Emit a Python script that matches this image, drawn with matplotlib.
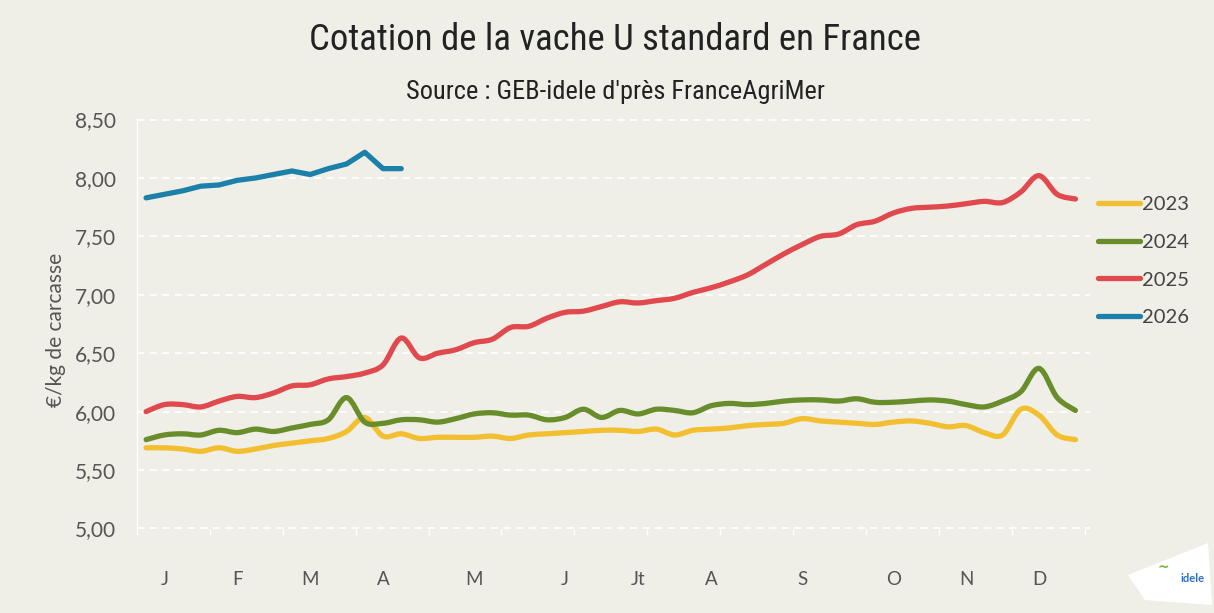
import matplotlib
matplotlib.use("Agg")
import matplotlib.pyplot as plt
from matplotlib.path import Path
from matplotlib.patches import PathPatch, Polygon
from matplotlib.lines import Line2D
from matplotlib import font_manager
import numpy as np

# ---------------- data ----------------
weeks = list(range(52))
y2023 = [5.69, 5.69, 5.68, 5.66, 5.69, 5.66, 5.68, 5.71, 5.73, 5.75, 5.77, 5.83, 5.95,
         5.79, 5.81, 5.77, 5.78, 5.78, 5.78, 5.79, 5.77, 5.80, 5.81, 5.82, 5.83, 5.84,
         5.84, 5.83, 5.85, 5.80, 5.84, 5.85, 5.86, 5.88, 5.89, 5.90, 5.94, 5.92, 5.91,
         5.90, 5.89, 5.91, 5.92, 5.90, 5.87, 5.88, 5.82, 5.80, 6.02, 5.97, 5.80, 5.76]
y2024 = [5.76, 5.80, 5.81, 5.80, 5.84, 5.82, 5.85, 5.83, 5.86, 5.89, 5.93, 6.12, 5.91,
         5.90, 5.93, 5.93, 5.91, 5.94, 5.98, 5.99, 5.97, 5.97, 5.93, 5.95, 6.02, 5.95,
         6.01, 5.98, 6.02, 6.01, 5.99, 6.05, 6.07, 6.06, 6.07, 6.09, 6.10, 6.10, 6.09,
         6.11, 6.08, 6.08, 6.09, 6.10, 6.09, 6.06, 6.04, 6.09, 6.17, 6.37, 6.12, 6.01]
y2025 = [6.00, 6.06, 6.06, 6.04, 6.09, 6.13, 6.12, 6.16, 6.22, 6.23, 6.28, 6.30, 6.33,
         6.40, 6.63, 6.46, 6.50, 6.53, 6.59, 6.62, 6.72, 6.73, 6.80, 6.85, 6.86, 6.90,
         6.94, 6.93, 6.95, 6.97, 7.02, 7.06, 7.11, 7.17, 7.26, 7.35, 7.43, 7.50, 7.52,
         7.60, 7.63, 7.70, 7.74, 7.75, 7.76, 7.78, 7.80, 7.79, 7.88, 8.02, 7.86, 7.82]
y2026 = [7.83, 7.86, 7.89, 7.93, 7.94, 7.98, 8.00, 8.03, 8.06, 8.03, 8.08, 8.12, 8.22,
         8.08, 8.08]
series_names = ["2023", "2024", "2025", "2026"]
month_labels = ["J", "F", "M", "A", "M", "J", "Jt", "A", "S", "O", "N", "D"]
month_weeks = [1, 5, 9, 13, 18, 23, 27, 31, 36, 41, 45, 49]
y_ticks = [5.0, 5.5, 6.0, 6.5, 7.0, 7.5, 8.0, 8.5]

colors = ["#F2BF30", "#6A8D2B", "#E0494E", "#1C80A9"]
BG = "#EFEFE8"

avail = {f.name for f in font_manager.fontManager.ttflist}
def pick(cands):
    for c in cands:
        if c in avail:
            return c
    return "DejaVu Sans"
title_font = pick(["Roboto Condensed", "Open Sans Condensed", "Liberation Sans Narrow", "Roboto"])
body_font = pick(["Lato", "Open Sans", "DejaVu Sans"])

fig = plt.figure(figsize=(12.14, 6.13), dpi=100, facecolor=BG)
ax = fig.add_axes([137/1214, 1-529/613, (1090-137)/1214, (529-119)/613])
ax.set_facecolor(BG)

def smooth_path(xs, ys):
    xs = np.asarray(xs, float); ys = np.asarray(ys, float)
    verts = [(xs[0], ys[0])]
    codes = [Path.MOVETO]
    n = len(xs)
    for i in range(n - 1):
        p0 = i - 1 if i > 0 else i
        p3 = i + 2 if i + 2 < n else i + 1
        c1 = (xs[i] + (xs[i+1] - xs[p0]) / 6, ys[i] + (ys[i+1] - ys[p0]) / 6)
        c2 = (xs[i+1] - (xs[p3] - xs[i]) / 6, ys[i+1] - (ys[p3] - ys[i]) / 6)
        verts += [c1, c2, (xs[i+1], ys[i+1])]
        codes += [Path.CURVE4] * 3
    return Path(verts, codes)

lw = 3.8
for vals, col in zip([y2023, y2024, y2025], colors[:3]):
    p = smooth_path(weeks[:len(vals)], vals)
    ax.add_patch(PathPatch(p, fill=False, edgecolor=col, lw=lw, capstyle="round",
                           joinstyle="round", zorder=3))
ax.plot(weeks[:len(y2026)], y2026, color=colors[3], lw=lw, solid_capstyle="round",
        solid_joinstyle="round", zorder=3)

ax.set_xlim(-0.44, 51.8)
ax.set_ylim(4.995, 8.505)
ax.set_yticks(y_ticks)
ax.set_yticklabels([f"{v:.2f}".replace(".", ",") for v in y_ticks],
                   fontsize=15, color="#555555", fontfamily=body_font)
ax.set_xticks(month_weeks)
ax.set_xticklabels(month_labels, fontsize=13.5, color="#555555", fontfamily=body_font)
ax.set_xticks([-0.5 + 4 * k for k in range(14)], minor=True)
ax.tick_params(axis="x", which="major", length=0, pad=30)
ax.tick_params(axis="x", which="minor", length=4, color="white", width=1)
ax.tick_params(axis="y", length=0, pad=15)
for s in ["top", "right", "bottom"]:
    ax.spines[s].set_visible(False)
ax.spines["left"].set_color("white")
ax.spines["left"].set_linewidth(1)
ax.grid(axis="y", color="white", linestyle=(0, (4, 3)), linewidth=1.3, zorder=1)
ax.set_axisbelow(True)

ax.set_ylabel("€/kg de carcasse", fontsize=15, color="#555555", fontfamily=body_font)
ax.yaxis.set_label_coords(-0.074, 0.485)

fig.text(0.507, 0.935, "Cotation de la vache U standard en France", ha="center",
         va="center", fontsize=26.5, color="#222222", fontfamily=title_font)
fig.text(0.507, 0.850, "Source : GEB-idele d'près FranceAgriMer", ha="center",
         va="center", fontsize=19, color="#222222", fontfamily=title_font)

handles = [Line2D([0], [0], color=c, lw=lw, solid_capstyle="round") for c in colors]
leg = fig.legend(handles, series_names, loc="upper left",
                 bbox_to_anchor=(1080/1214, 1-178/613),
                 frameon=False, handlelength=2.1, handletextpad=0.1, labelspacing=1.02,
                 prop={"family": body_font, "size": 14.5})
for t in leg.get_texts():
    t.set_color("#444444")

# simple logo mark
logo = Polygon([(1128/1214, 1-575/613), (1208/1214, 1-543/613), (1212/1214, 1-605/613),
                (1145/1214, 1-600/613)], closed=True, transform=fig.transFigure,
               facecolor="white", edgecolor="none", zorder=0)
fig.patches.append(logo)
fig.text(1193/1214, 1-579/613, "idele", ha="center", va="center", fontsize=8,
         color="#2A6FB8", fontweight="bold", fontfamily=body_font)
fig.text(1163/1214, 1-568/613, "~", ha="center", va="center", fontsize=10,
         color="#7DB93A", fontweight="bold")

fig.savefig("out.png", dpi=100, facecolor=BG)
